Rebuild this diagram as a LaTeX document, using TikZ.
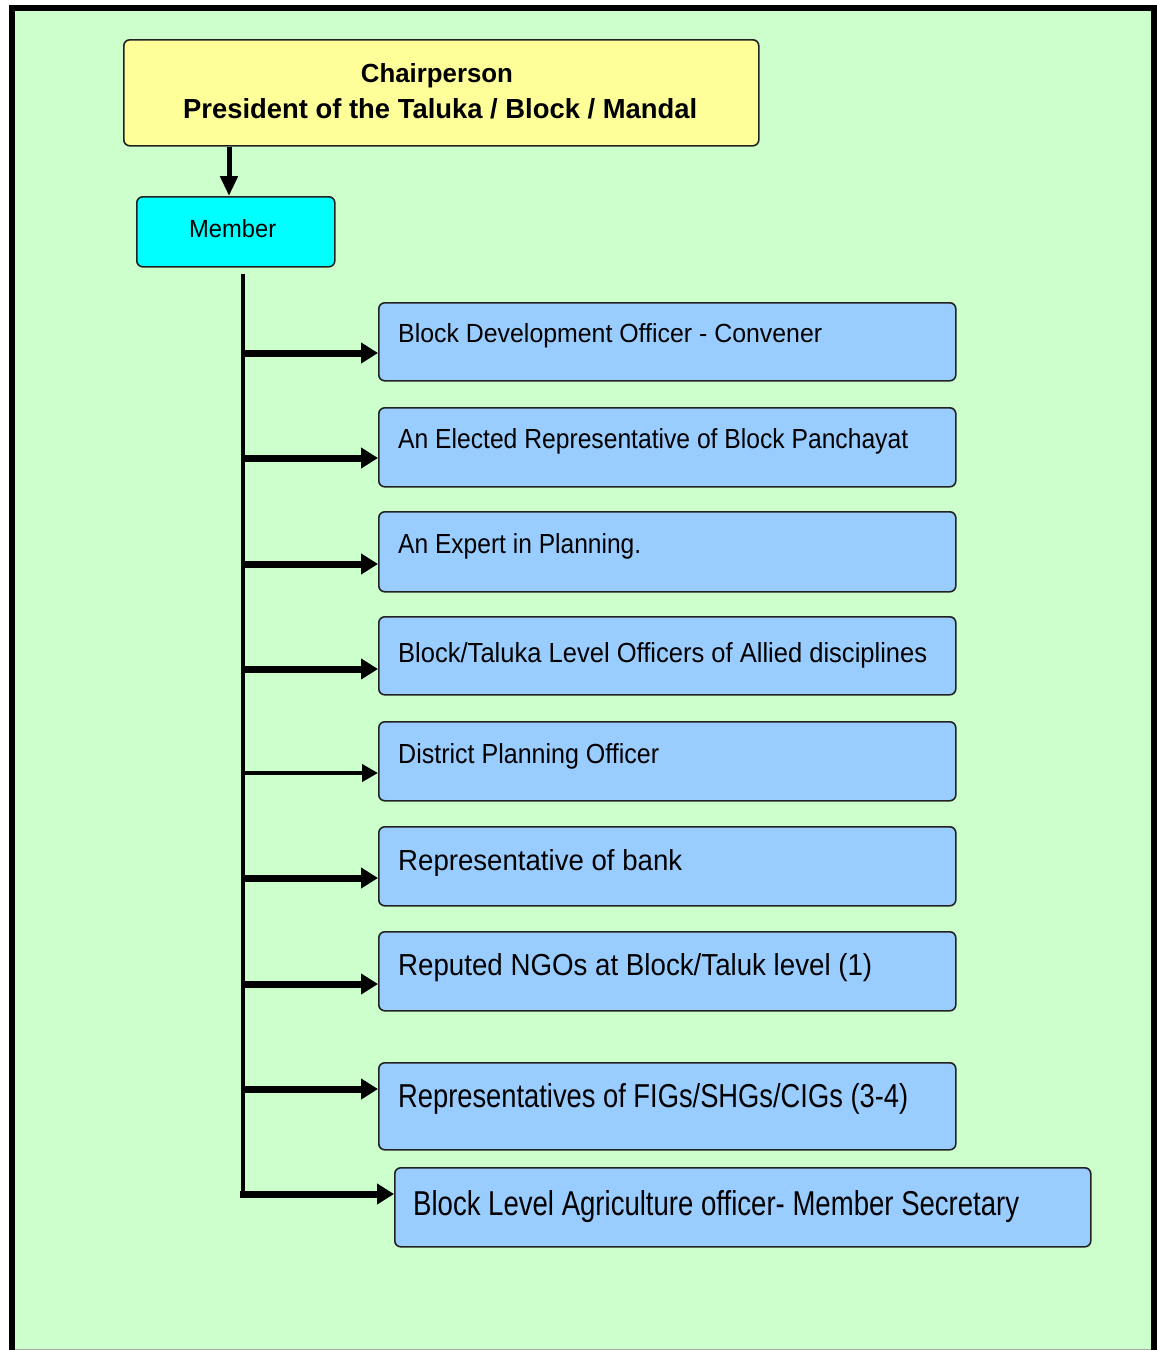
\documentclass[tikz,border=0pt]{standalone}
\usepackage{fontspec}
\setmainfont{Liberation Sans}
\usetikzlibrary{arrows.meta}
\definecolor{bggreen}{HTML}{CCFFCC}
\definecolor{chairfill}{HTML}{FFFF99}
\definecolor{memberfill}{HTML}{00FFFF}
\definecolor{rolefill}{HTML}{99CCFF}
\definecolor{edge}{HTML}{222222}
% scale a text line to a given width and cap height (both in pt)
\newcommand\fitto[3]{\resizebox{#1pt}{#2pt}{#3}}
\begin{document}
\begin{tikzpicture}[x=1pt,y=-1pt,
  box/.style={draw=edge, line width=1.6pt, rounded corners=6pt, inner sep=0pt, anchor=north west},
  rolebox/.style={box, fill=rolefill, minimum width=577pt},
  lbl/.style={anchor=base west, inner sep=0pt},
  clbl/.style={anchor=base, inner sep=0pt},
  trunkline/.style={line width=4pt},
  branch/.style={line width=7pt, -{Triangle[length=17pt,width=20pt]}},
  thinbranch/.style={line width=4pt, -{Triangle[length=16pt,width=17pt]}},
  downarrow/.style={line width=5pt, -{Triangle[length=20pt,width=17pt]}}]
\useasboundingbox (0,0) rectangle (1157,1350);
% page and frame
\fill[white] (0,0) rectangle (1157,1350);
\fill[bggreen] (12,8) rectangle (1154,1350);
\draw[line width=6pt, line join=miter] (12,1350) -- (12,8) -- (1154,8) -- (1154,1350);
\draw[gray!70, line width=1pt] (15,1349.5) -- (1151,1349.5);

% head of the committee
\node[box, fill=chairfill, minimum width=635pt, minimum height=106pt] (chair) at (123,39) {};
\node[clbl] (chairt1) at (437,82) {\bfseries\fitto{152}{19}{Chairperson}};
\node[lbl] (chairt2) at (183,118) {\bfseries\fitto{514}{20}{President of the Taluka / Block / Mandal}};

% members
\node[box, fill=memberfill, minimum width=198pt, minimum height=70pt] (member) at (136,196) {};
\node[lbl] (membert) at (189,237) {\fitto{87}{18}{Member}};

\node[rolebox, minimum height=78pt] (b1) at (378,302) {};
\node[rolebox, minimum height=79pt] (b2) at (378,407) {};
\node[rolebox, minimum height=80pt] (b3) at (378,511) {};
\node[rolebox, minimum height=78pt] (b4) at (378,616) {};
\node[rolebox, minimum height=79pt] (b5) at (378,721) {};
\node[rolebox, minimum height=79pt] (b6) at (378,826) {};
\node[rolebox, minimum height=79pt] (b7) at (378,931) {};
\node[rolebox, minimum height=87pt] (b8) at (378,1062) {};
\node[box, fill=rolefill, minimum width=696pt, minimum height=79pt] (b9) at (394,1167) {};

\node[lbl] (t1) at (398,342) {\fitto{424}{19}{Block Development Officer - Convener}};
\node[lbl] (t2) at (398,448) {\fitto{510}{20}{An Elected Representative of Block Panchayat}};
\node[lbl] (t3) at (398,553) {\fitto{243}{20}{An Expert in Planning.}};
\node[lbl] (t4) at (398,662) {\fitto{529}{20}{Block/Taluka Level Officers of Allied disciplines}};
\node[lbl] (t5) at (398,763) {\fitto{261}{20}{District Planning Officer}};
\node[lbl] (t6) at (398,870) {\fitto{284}{21}{Representative of bank}};
\node[lbl] (t7) at (398,975) {\fitto{474}{22}{Reputed NGOs at Block/Taluk level (1)}};
\node[lbl] (t8) at (398,1107) {\fitto{510}{24}{Representatives of FIGs/SHGs/CIGs (3-4)}};
\node[lbl] (t9) at (413,1215) {\fitto{606}{25}{Block Level Agriculture officer- Member Secretary}};

% connectors
\coordinate (cx) at (229,0);
\draw[downarrow] (chair.south -| cx) -- (member.north -| cx);

\coordinate (ttop) at (243,274);
\coordinate (j1) at (243,353);
\coordinate (j2) at (243,458);
\coordinate (j3) at (243,564);
\coordinate (j4) at (243,669);
\coordinate (j5) at (243,773);
\coordinate (j6) at (243,878);
\coordinate (j7) at (243,984);
\coordinate (j8) at (243,1089);
\coordinate (j9) at (243,1194);
\draw[trunkline] (ttop) -- (j9);

\draw[branch] (j1) -- (b1.west |- j1);
\draw[branch] (j2) -- (b2.west |- j2);
\draw[branch] (j3) -- (b3.west |- j3);
\draw[branch] (j4) -- (b4.west |- j4);
\draw[thinbranch] (j5) -- (b5.west |- j5);
\draw[branch] (j6) -- (b6.west |- j6);
\draw[branch] (j7) -- (b7.west |- j7);
\draw[branch] (j8) -- (b8.west |- j8);
\draw[branch, line cap=rect] (j9) -- (b9.west |- j9);
\end{tikzpicture}
\end{document}
